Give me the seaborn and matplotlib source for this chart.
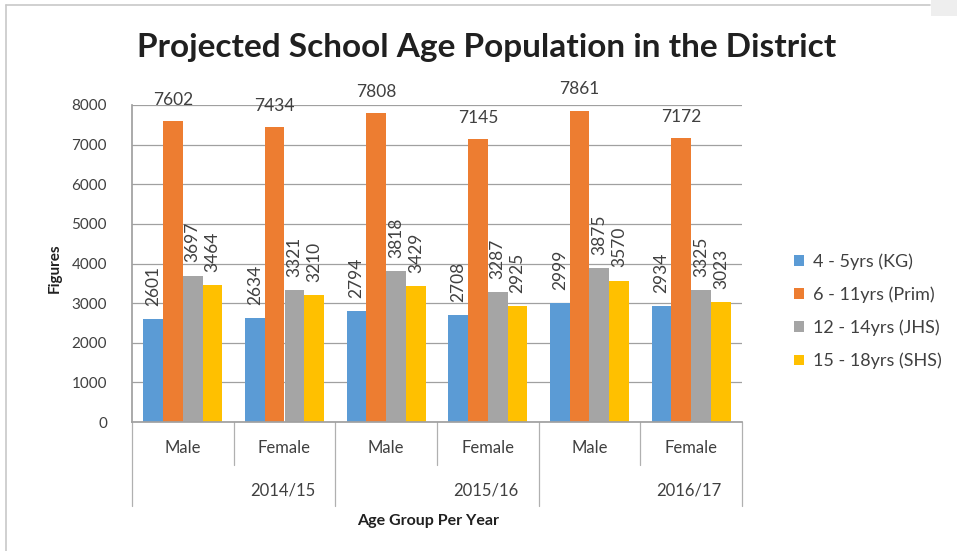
import matplotlib
matplotlib.use("Agg")
import matplotlib.pyplot as plt
import seaborn as sns
import pandas as pd
from matplotlib.lines import Line2D
from matplotlib.patches import Rectangle

# ---- data ----
years = ["2014/15", "2015/16", "2016/17"]
genders = ["Male", "Female"]
series = ["4 - 5yrs (KG)", "6 - 11yrs (Prim)", "12 - 14yrs (JHS)", "15 - 18yrs (SHS)"]
kg   = [2601, 2634, 2794, 2708, 2999, 2934]
prim = [7602, 7434, 7808, 7145, 7861, 7172]
jhs  = [3697, 3321, 3818, 3287, 3875, 3325]
shs  = [3464, 3210, 3429, 2925, 3570, 3023]
yticks = [0, 1000, 2000, 3000, 4000, 5000, 6000, 7000, 8000]

colors = ["#5B9BD5", "#ED7D31", "#A5A5A5", "#FFC000"]

cats = [f"{y} {g}" for y in years for g in genders]
rows = []
for s, vals in zip(series, [kg, prim, jhs, shs]):
    for c, v in zip(cats, vals):
        rows.append({"cat": c, "series": s, "value": v})
df = pd.DataFrame(rows)

sns.set_theme(style="white")
plt.rcParams["font.family"] = ["Lato", "DejaVu Sans"]

W, H = 957, 551
fig = plt.figure(figsize=(W / 100, H / 100), dpi=100)
ax_l, ax_r, ax_b, ax_t = 132, 742, 422, 105
ax = fig.add_axes([ax_l / W, 1 - ax_b / H, (ax_r - ax_l) / W, (ax_b - ax_t) / H])

sns.barplot(data=df, x="cat", y="value", hue="series", order=cats,
            hue_order=series, palette=colors, width=0.78, ax=ax,
            edgecolor="none", saturation=1, legend=True)

ax.set_ylim(0, 8000)
ax.set_yticks(yticks)
ax.set_yticklabels([str(t) for t in yticks], fontsize=11, color="#404040")
ax.yaxis.grid(True, color="#A0A0A0", linewidth=0.9)
ax.set_axisbelow(True)
ax.tick_params(axis="y", length=12, color="#A0A0A0", pad=6)
for sp in ["top", "right"]:
    ax.spines[sp].set_visible(False)
ax.spines["left"].set_color("#A0A0A0")
ax.spines["bottom"].set_color("#A0A0A0")

# data labels
for ci, cont in enumerate(ax.containers):
    for bar in cont:
        h = bar.get_height()
        xc = bar.get_x() + bar.get_width() / 2
        if ci == 1:
            ax.text(xc, h + 330, f"{int(round(h))}", ha="center", va="bottom",
                    fontsize=12.5, color="#404040")
        else:
            ax.text(xc, h + 330, f"{int(round(h))}", ha="center", va="bottom",
                    rotation=90, fontsize=12.5, color="#404040")

# category labels (two levels)
ax.set_xticks(range(len(cats)))
ax.set_xticklabels([c.split(" ")[1] for c in cats], fontsize=12, color="#404040")
ax.tick_params(axis="x", length=0, pad=13)
ax.set_xlabel("")
ax.set_ylabel("")

trans = ax.get_xaxis_transform()
for i, y in enumerate(years):
    ax.text(2 * i + 0.98, -0.215, y, transform=trans, ha="center", va="center",
            fontsize=12, color="#404040")
for k in range(7):
    xpos = k - 0.5
    y_end = -0.265 if k % 2 == 0 else -0.135
    ax.add_line(Line2D([xpos, xpos], [0, y_end], transform=trans, color="#B0B0B0",
                       linewidth=0.9, clip_on=False))

fig.text(55 / W, 1 - 268 / H, "Figures", ha="center", va="center", rotation=90,
         fontsize=11, fontweight="bold", color="#202020")
fig.text(428 / W, 1 - 521 / H, "Age Group Per Year", ha="center", va="center",
         fontsize=11.5, fontweight="bold", color="#202020")

fig.text(487 / W, 1 - 47 / H, "Projected School Age Population in the District",
         ha="center", va="center", fontsize=24, fontweight="bold", color="#202020")

# legend
leg = ax.legend(loc="upper left", bbox_to_anchor=(778 / W, 1 - 237 / H),
                bbox_transform=fig.transFigure, frameon=False, fontsize=13,
                handlelength=0.55, handleheight=0.55, handletextpad=0.5,
                labelspacing=0.92)
for t in leg.get_texts():
    t.set_color("#404040")

# outer frame (top and left)
fig.add_artist(Line2D([6 / W, 930 / W], [1 - 5 / H, 1 - 5 / H], transform=fig.transFigure,
                      color="#C8C8C8", linewidth=1.2))
fig.add_artist(Line2D([6 / W, 6 / W], [0, 1 - 5 / H], transform=fig.transFigure,
                      color="#C8C8C8", linewidth=1.2))
fig.add_artist(Rectangle((931 / W, 1 - 16 / H), 26 / W, 16 / H, transform=fig.transFigure,
                         facecolor="#EEEEEE", edgecolor="none"))

fig.savefig("out.png", dpi=100)
